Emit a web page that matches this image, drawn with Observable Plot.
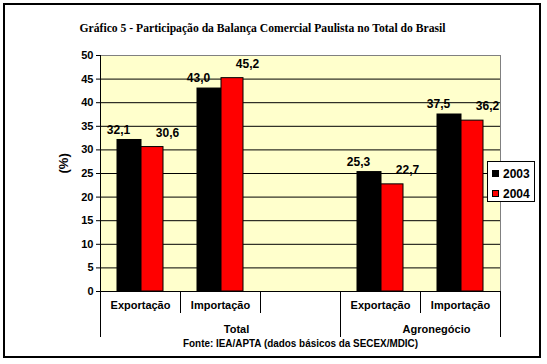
<!DOCTYPE html>
<html><head><meta charset="utf-8">
<script src="https://cdn.jsdelivr.net/npm/d3@7"></script>
<script src="https://cdn.jsdelivr.net/npm/@observablehq/plot@0.6"></script>
<style>
body{margin:0;background:#fff;}
#wrap{position:relative;width:547px;height:364px;overflow:hidden;}
#wrap svg{position:absolute;left:0;top:0;}
#border{position:absolute;left:3px;top:3px;width:534px;height:351px;border:2px solid #000;pointer-events:none;}
#legend{position:absolute;left:487px;top:161px;width:46px;height:39px;background:#fff;border:1px solid #000;font:bold 12px "Liberation Sans",Arial,sans-serif;}
.item{position:absolute;left:4px;height:14px;line-height:14px;white-space:nowrap;}
.sw{display:inline-block;width:7px;height:7px;border:1px solid #000;box-sizing:border-box;margin-right:4px;vertical-align:1px;}
</style></head>
<body><div id="wrap"></div>
<script>
// ---- data ----
const groups = ["Total", "Total", "Total", "Agronegócio", "Agronegócio"];
const categories = ["Exportação", "Importação", "", "Exportação", "Importação"];
const years = ["2003", "2004"];
const values2003 = [32.1, 43.0, null, 25.3, 37.5];
const values2004 = [30.6, 45.2, null, 22.7, 36.2];
const colors = ["#000000", "#FF0000"];
const yTicks = [0, 5, 10, 15, 20, 25, 30, 35, 40, 45, 50];
const title = "Gráfico 5 - Participação da Balança Comercial Paulista no Total do Brasil";
const source = "Fonte: IEA/APTA (dados básicos da SECEX/MDIC)";
const yLabel = "(%)";

// ---- build ----
const slots = categories.map((c, i) => groups[i] + "|" + c);
const series = [values2003, values2004];
const rows = [];
series.forEach((vals, k) => vals.forEach((v, i) => {
  if (v != null) rows.push({slot: slots[i], year: years[k], value: v});
}));
const fmt = v => d3.format(".1f")(v).replace(".", ",");

const W = 547, H = 364, mL = 100, mR = 47, mT = 55, mB = 73;
const bw = (W - mL - mR) / slots.length;

const catRows = slots.map((s, i) => ({slot: s, cat: categories[i]})).filter(d => d.cat);
const groupNames = [...new Set(groups)];
const groupRows = groupNames.map(g => {
  const idx = groups.map((gg, i) => gg === g ? i : -1).filter(i => i >= 0);
  const mid = (idx[0] + idx[idx.length - 1]) / 2;
  return {name: g, slot: slots[Math.floor(mid)], off: (mid - Math.floor(mid)) * bw};
});
const bounds = slots.map((s, i) => ({slot: s, long: i === 0 || groups[i] !== groups[i - 1]}));

const marks = [
  Plot.frame({fill: "#FFFFCC", stroke: "#808080"}),
  Plot.ruleY(yTicks.filter(t => t > 0 && t < 50), {stroke: "#000"}),
  Plot.barY(rows.filter(d => d.year === years[0]), {x: "slot", y: "value", fill: colors[0], stroke: "#000", insetLeft: 17, insetRight: 39}),
  Plot.barY(rows.filter(d => d.year === years[1]), {x: "slot", y: "value", fill: colors[1], stroke: "#000", insetLeft: 41, insetRight: 17}),
  Plot.ruleY([0], {stroke: "#000"}),
  Plot.ruleX([slots[0]], {dx: -bw / 2, stroke: "#000"}),
  // category separators
  Plot.ruleX(bounds.filter(d => !d.long), {x: "slot", y1: 0, y2: 0, dx: -bw / 2, insetBottom: -22, stroke: "#000"}),
  Plot.ruleX(bounds.filter(d => d.long), {x: "slot", y1: 0, y2: 0, dx: -bw / 2, insetBottom: -46, stroke: "#000"}),
  Plot.ruleX([slots[slots.length - 1]], {y1: 0, y2: 0, dx: bw / 2, insetBottom: -46, stroke: "#000"}),
  // category labels
  Plot.text(catRows, {x: "slot", y: () => 0, text: "cat", dy: 14, fontSize: 11, fontWeight: "bold"}),
  ...groupRows.map(g => Plot.text([g], {x: "slot", y: () => 0, text: "name", dy: 38, dx: g.off + 16, fontSize: 11, fontWeight: "bold"})),
  // value labels
  Plot.text(rows.filter(d => d.year === years[0]), {x: "slot", y: "value", text: d => fmt(d.value), dx: -22, dy: -10, fontSize: 12, fontWeight: "bold"}),
  Plot.text(rows.filter(d => d.year === years[1]), {x: "slot", y: "value", text: d => fmt(d.value), dx: 27, dy: -14, fontSize: 12, fontWeight: "bold"}),
  // titles
  Plot.text([title], {frameAnchor: "top", dy: -33, dx: -38, fontFamily: "'Liberation Serif','Times New Roman',serif", fontWeight: "bold", fontSize: 13}),
  Plot.text([source], {frameAnchor: "bottom", dy: 55, fontSize: 10, fontWeight: "bold"}),
  Plot.text([yLabel], {frameAnchor: "left", dx: -37, rotate: -90, fontSize: 13, fontWeight: "bold"})
];

const plot = Plot.plot({
  width: W, height: H,
  marginTop: mT, marginBottom: mB, marginLeft: mL, marginRight: mR,
  style: {background: "transparent", fontFamily: "'Liberation Sans', Arial, sans-serif", fontSize: "11px", fontWeight: "bold", color: "#000", overflow: "visible"},
  x: {type: "band", domain: slots, padding: 0, axis: null},
  y: {domain: [0, 50], ticks: yTicks, tickSize: 4, tickPadding: 3, label: null, tickFormat: d => d},
  marks
});

const svg = d3.select(plot);
svg.selectAll("text").filter(function() { return this.textContent === title; })
  .attr("textLength", 366).attr("lengthAdjust", "spacingAndGlyphs");
svg.selectAll("text").filter(function() { return this.textContent === source; })
  .attr("textLength", 235).attr("lengthAdjust", "spacingAndGlyphs");

const wrap = document.getElementById("wrap");
wrap.appendChild(plot);
const border = document.createElement("div"); border.id = "border"; wrap.appendChild(border);
const legend = document.createElement("div"); legend.id = "legend";
years.forEach((y, k) => {
  const it = document.createElement("div");
  it.className = "item"; it.style.top = (5 + k * 20) + "px";
  it.innerHTML = `<span class="sw" style="background:${colors[k]}"></span>${y}`;
  legend.appendChild(it);
});
wrap.appendChild(legend);
</script></body></html>
